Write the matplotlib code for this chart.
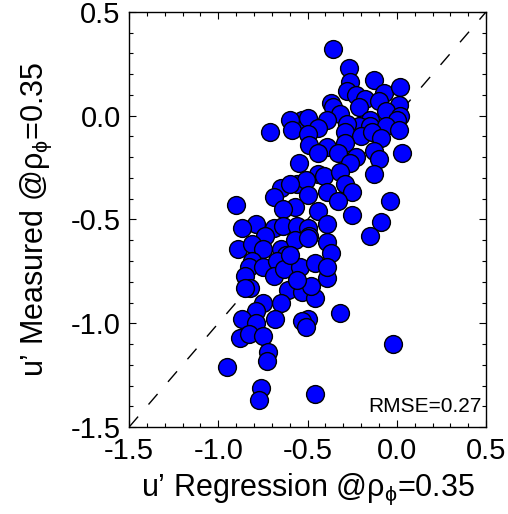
import numpy as np
import matplotlib
matplotlib.use("Agg")
import matplotlib.pyplot as plt
from matplotlib.ticker import MultipleLocator

plt.rcParams['font.family'] = ['Liberation Sans', 'DejaVu Sans']
plt.rcParams['mathtext.fontset'] = 'custom'
plt.rcParams['mathtext.rm'] = 'Liberation Sans'
plt.rcParams['mathtext.it'] = 'Liberation Sans'

# values
x_regression = [
    -0.36, -0.27, -0.26, -0.13, -0.07, 0.02, -0.28, -0.23, -0.18, -0.10,
    0.01, -0.21, -0.37, -0.36, -0.06, 0.02, 0.00, -0.32, -0.15, -0.39,
    -0.53, -0.60, -0.50, -0.21, -0.28, -0.15, -0.06, 0.01, -0.59, -0.44,
    -0.50, -0.29, -0.20, -0.14, -0.09, -0.49, -0.39, -0.29, -0.44, -0.33,
    -0.23, -0.13, 0.03, -0.10, -0.26, -0.55, -0.44, -0.41, -0.32, -0.13,
    -0.56, -0.51, -0.29, -0.25, -0.39, -0.50, -0.04, -0.57, -0.33, -0.44,
    -0.25, -0.09, -0.39, -0.54, -0.15, -0.71, -0.65, -0.69, -0.90, -0.60,
    -0.64, -0.79, -0.87, -0.69, -0.64, -0.56, -0.50, -0.74, -0.49, -0.89,
    -0.81, -0.75, -0.65, -0.62, -0.57, -0.50, -0.39, -0.81, -0.83, -0.75,
    -0.67, -0.69, -0.63, -0.54, -0.46, -0.39, -0.85, -0.82, -0.85, -0.61,
    -0.53, -0.46, -0.48, -0.56, -0.75, -0.79, -0.65, -0.87, -0.79, -0.68,
    -0.50, -0.53, -0.51, -0.88, -0.83, -0.75, -0.72, -0.73, -0.95, -0.76,
    -0.77, -0.46, -0.37, -0.39, -0.60, -0.32, -0.02,
]
y_measured = [
    0.32, 0.23, 0.16, 0.17, 0.11, 0.14, 0.12, 0.10, 0.08, 0.07,
    0.05, 0.04, 0.06, 0.04, 0.02, 0.00, -0.02, 0.01, -0.02, -0.02,
    -0.02, -0.02, -0.01, -0.05, -0.04, -0.05, -0.05, -0.07, -0.07, -0.06,
    -0.09, -0.08, -0.10, -0.08, -0.11, -0.14, -0.15, -0.13, -0.18, -0.18,
    -0.20, -0.17, -0.18, -0.21, -0.23, -0.23, -0.28, -0.29, -0.27, -0.28,
    -0.33, -0.31, -0.33, -0.37, -0.37, -0.38, -0.41, -0.44, -0.41, -0.46,
    -0.48, -0.51, -0.52, -0.54, -0.58, -0.08, -0.35, -0.39, -0.43, -0.33,
    -0.45, -0.52, -0.54, -0.54, -0.53, -0.53, -0.54, -0.58, -0.58, -0.64,
    -0.62, -0.64, -0.64, -0.67, -0.60, -0.59, -0.61, -0.70, -0.73, -0.73,
    -0.70, -0.77, -0.74, -0.73, -0.71, -0.78, -0.77, -0.83, -0.83, -0.84,
    -0.85, -0.88, -0.82, -0.79, -0.90, -0.94, -0.90, -0.98, -1.00, -0.98,
    -0.98, -0.99, -1.02, -1.07, -1.05, -1.06, -1.14, -1.18, -1.21, -1.31,
    -1.37, -1.34, -0.66, -0.73, -0.67, -0.95, -1.10,
]
rmse_text = "RMSE=0.27"
axis_min, axis_max = -1.5, 0.5

fig = plt.figure(figsize=(5.08, 5.14), dpi=100)
ax = fig.add_axes([0.254, 0.169, 0.703, 0.808])

ax.plot([axis_min, axis_max], [axis_min, axis_max], color='black', lw=1.0,
        dashes=(10, 11.5), zorder=1)
ax.scatter(x_regression, y_measured, s=165, c='#0000ff', edgecolors='black',
           linewidths=1.0, zorder=2)

ax.set_xlim(axis_min, axis_max)
ax.set_ylim(axis_min, axis_max)
ax.xaxis.set_major_locator(MultipleLocator(0.5))
ax.yaxis.set_major_locator(MultipleLocator(0.5))
ax.xaxis.set_minor_locator(MultipleLocator(0.1))
ax.yaxis.set_minor_locator(MultipleLocator(0.1))
ax.tick_params(which='both', direction='in', top=True, right=True,
               labelsize=21, width=0.8)
ax.tick_params(which='major', length=5)
ax.tick_params(which='minor', length=3)
ax.tick_params(axis='x', which='major', pad=7)
ax.tick_params(axis='y', which='major', pad=6)
for sp in ax.spines.values():
    sp.set_linewidth(1.0)

# plain hyphen for negatives, like the original
ax.set_xticks(ax.get_xticks())
ax.set_yticks(ax.get_yticks())
ax.set_xticklabels([f"{v:.1f}" for v in ax.get_xticks()])
ax.set_yticklabels([f"{v:.1f}" for v in ax.get_yticks()])
ax.set_xlim(axis_min, axis_max)
ax.set_ylim(axis_min, axis_max)

ax.set_xlabel(r"u’ Regression @$\rho_{\phi}$=0.35", fontsize=22, labelpad=5)
ax.set_ylabel(r"u’ Measured @$\rho_{\phi}$=0.35", fontsize=22, labelpad=12)

ax.text(0.986, 0.036, rmse_text, transform=ax.transAxes, ha='right',
        va='baseline', fontsize=15)

fig.savefig("out.png", dpi=100)
